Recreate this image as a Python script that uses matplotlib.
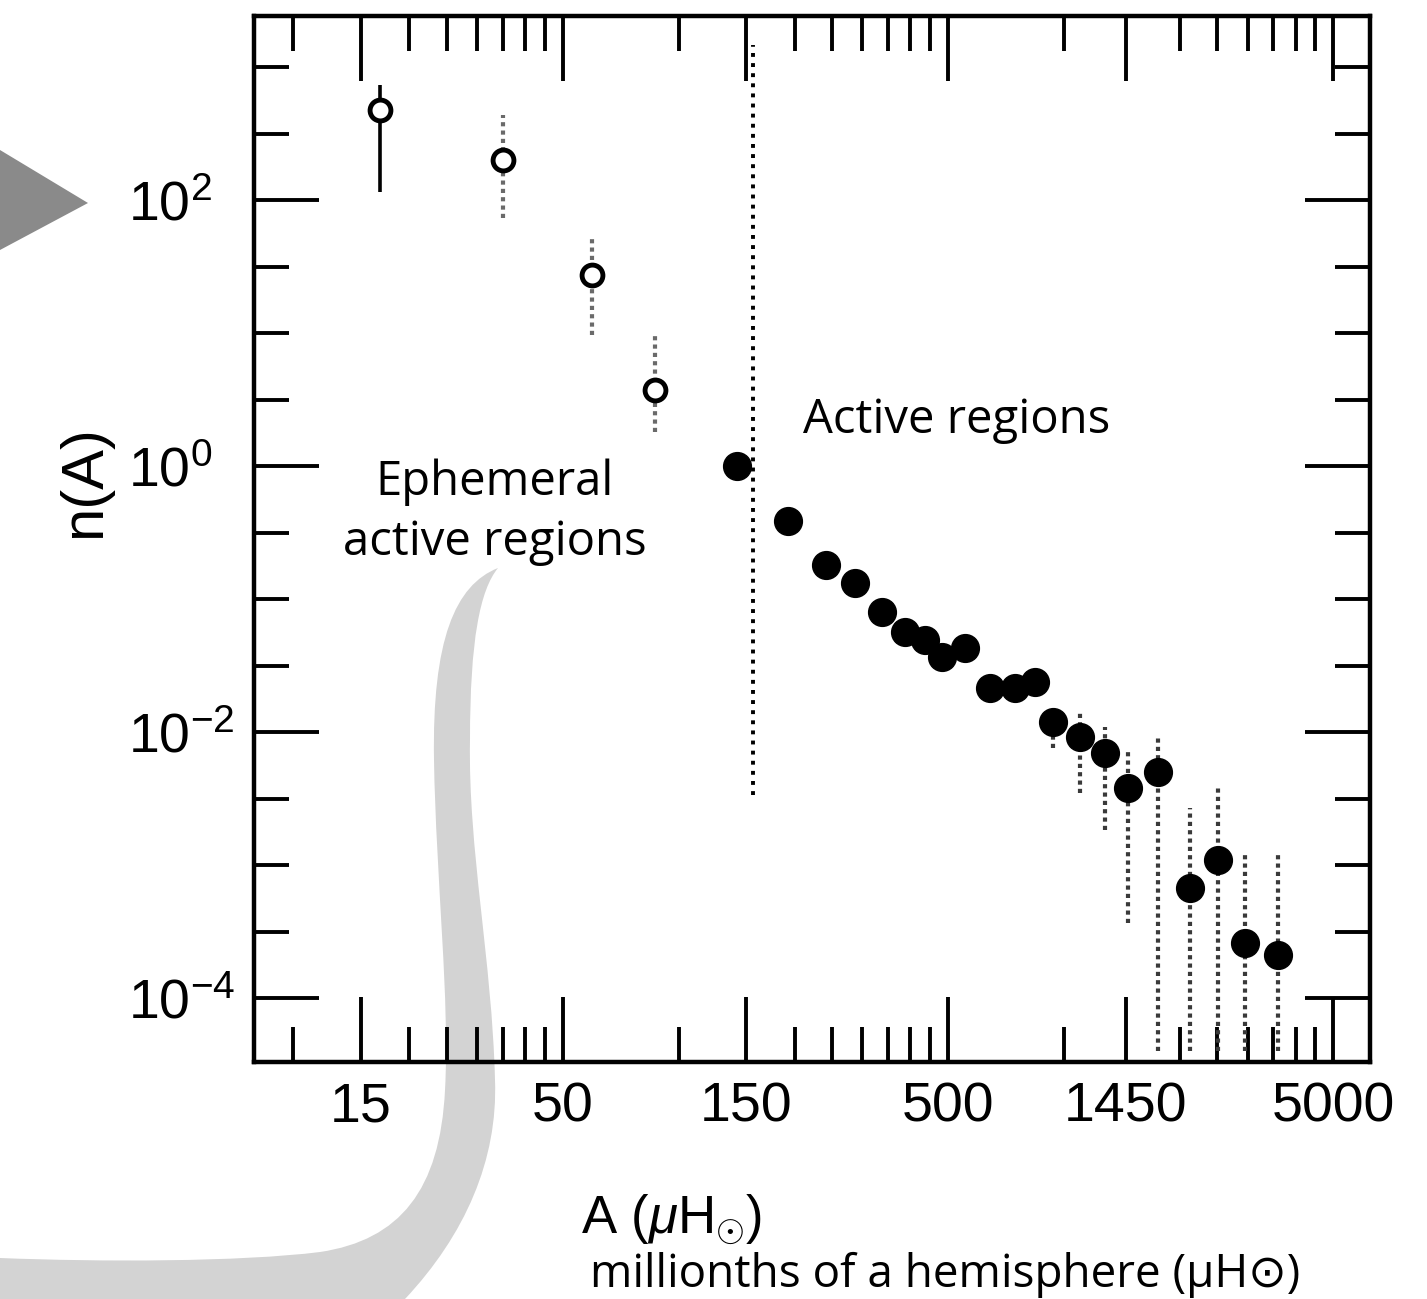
import matplotlib
matplotlib.use("Agg")
import matplotlib.pyplot as plt
from matplotlib.path import Path
from matplotlib.patches import PathPatch, Polygon
from matplotlib.ticker import FixedLocator, NullFormatter

# ---- data -------------------------------------------------------------
# Ephemeral active regions (open symbols): area in micro-hemispheres, n(A)
eph_area = [16.8, 35.0, 59.7, 86.9]
eph_n = [479.0, 201.6, 27.5, 3.76]
eph_lo = [116.0, 73.9, 9.74, 1.82]
eph_hi = [738.0, 439.0, 52.2, 10.3]

# Active regions (filled symbols)
ar_area = [142, 192, 241, 287, 337, 387, 436, 483, 554, 644, 747, 841,
           937, 1102, 1279, 1468, 1756, 2127, 2514, 2953, 3597]
ar_n = [1.0, 0.389, 0.182, 0.133, 0.0805, 0.0570, 0.0496, 0.0370, 0.0432,
        0.0216, 0.0216, 0.0240, 0.0120, 0.00925, 0.00701, 0.00383, 0.00505,
        0.000678, 0.00110, 0.000261, 0.000212]
ar_lo = [1.0, 0.389, 0.182, 0.133, 0.0805, 0.0570, 0.0496, 0.0370, 0.0432,
         0.0175, 0.0180, 0.0210, 0.00764, 0.00351, 0.00185, 0.00037, 4e-5,
         4e-5, 4e-5, 4e-5, 4e-5]
ar_hi = [1.0, 0.389, 0.182, 0.133, 0.0805, 0.0570, 0.0496, 0.0370, 0.0432,
         0.0216, 0.0216, 0.0240, 0.01426, 0.0140, 0.0110, 0.00738, 0.0091,
         0.0027, 0.00383, 0.00126, 0.00126]

# Boundary between ephemeral and active regions
boundary_area = 156
boundary_n = [0.0034, 1476]

# Axis ticks
x_major = [15, 50, 150, 500, 1450, 5000]
x_minor = [10, 20, 25, 30, 35, 40, 45, 100, 200, 250, 300, 350, 400, 450,
           1000, 2000, 2500, 3000, 3500, 4000, 4500]
y_major = [1e2, 1e0, 1e-2, 1e-4]
y_major_labels = ["$10^{2}$", "$10^{0}$", "$10^{-2}$", "$10^{-4}$"]
y_minor = [10 ** (k / 2) for k in (7, 6, 5, 3, 2, 1, -1, -2, -3, -5, -6, -7)]

# ---- figure -----------------------------------------------------------
W, H, DPI = 1427, 1299, 100
plt.rcParams["mathtext.fontset"] = "custom"
plt.rcParams["mathtext.rm"] = "Liberation Sans"
plt.rcParams["mathtext.it"] = "Liberation Sans:italic"
plt.rcParams["mathtext.bf"] = "Liberation Sans:bold"
plt.rcParams["font.family"] = ["Liberation Sans", "DejaVu Sans"]

fig = plt.figure(figsize=(W / DPI, H / DPI), dpi=DPI)


def px(x, y):
    """Pixel position (origin top-left) to figure fraction."""
    return x / W, 1 - y / H


# decorative shapes behind the plot
swoosh_verts = [
    px(498, 568),
    px(455, 585), px(432, 640), px(434, 760),
    px(436, 880), px(450, 1000), px(445, 1090),
    px(440, 1190), px(400, 1240), px(320, 1252),
    px(240, 1262), px(100, 1262), px(0, 1258),
    px(0, 1299),
    px(405, 1299),
    px(465, 1235), px(498, 1160), px(495, 1080),
    px(492, 960), px(468, 850), px(470, 740),
    px(470, 640), px(480, 590), px(498, 568),
]
swoosh_codes = ([Path.MOVETO] + [Path.CURVE4] * 12 + [Path.LINETO, Path.LINETO]
                + [Path.CURVE4] * 9)
swoosh = PathPatch(Path(swoosh_verts, swoosh_codes), facecolor="#d3d3d3",
                   edgecolor="none", transform=fig.transFigure, zorder=0)
fig.add_artist(swoosh)

arrow = Polygon([px(0, 150), px(88, 203), px(0, 250)], closed=True,
                facecolor="#8a8a8a", edgecolor="none",
                transform=fig.transFigure, zorder=0)
fig.add_artist(arrow)

ax = fig.add_axes([254 / W, 1 - 1062 / H, (1370 - 254) / W, (1062 - 16) / H])
ax.patch.set_alpha(0)
ax.set_xscale("log")
ax.set_yscale("log")
ax.set_xlim(7.91, 6233)
ax.set_ylim(3.33e-5, 2439)

# error bars
ax.errorbar(eph_area[:1], eph_n[:1],
            yerr=[[eph_n[0] - eph_lo[0]], [eph_hi[0] - eph_n[0]]],
            fmt="none", ecolor="black", elinewidth=2.6, capsize=0, zorder=2)
eb = ax.errorbar(eph_area[1:], eph_n[1:],
                 yerr=[[n - l for n, l in zip(eph_n[1:], eph_lo[1:])],
                       [h - n for n, h in zip(eph_n[1:], eph_hi[1:])]],
                 fmt="none", ecolor="#6a6a6a", elinewidth=3.0, capsize=0,
                 zorder=2)
eb[2][0].set_linestyle((0, (1, 1)))
eb = ax.errorbar(ar_area, ar_n,
                 yerr=[[n - l for n, l in zip(ar_n, ar_lo)],
                       [h - n for n, h in zip(ar_n, ar_hi)]],
                 fmt="none", ecolor="#3a3a3a", elinewidth=3.0, capsize=0,
                 zorder=2)
eb[2][0].set_linestyle((0, (1, 1)))

# symbols
ax.plot(eph_area, eph_n, linestyle="none", marker="o", markersize=15,
        markerfacecolor="white", markeredgecolor="black",
        markeredgewidth=3.5, zorder=3)
ax.plot(ar_area, ar_n, linestyle="none", marker="o", markersize=20,
        markerfacecolor="black", markeredgecolor="black", zorder=3)

# divider
ax.plot([boundary_area, boundary_area], boundary_n, color="black",
        linewidth=2.8, linestyle=(0, (1, 1.6)), zorder=2)

# axes styling
for s in ax.spines.values():
    s.set_linewidth(3.2)
ax.xaxis.set_major_locator(FixedLocator(x_major))
ax.xaxis.set_minor_locator(FixedLocator(x_minor))
ax.xaxis.set_minor_formatter(NullFormatter())
ax.set_xticklabels([str(v) for v in x_major])
ax.yaxis.set_major_locator(FixedLocator(y_major))
ax.yaxis.set_minor_locator(FixedLocator(y_minor))
ax.yaxis.set_minor_formatter(NullFormatter())
ax.set_yticklabels(y_major_labels)
ax.tick_params(which="both", direction="in", top=True, right=True,
               width=2.8, color="black")
ax.tick_params(which="major", length=47)
ax.tick_params(which="minor", length=25)
ax.tick_params(axis="x", which="major", labelsize=40, pad=14)
ax.tick_params(axis="y", which="major", labelsize=40, pad=91)
for lab in ax.get_yticklabels():
    lab.set_horizontalalignment("left")

ax.set_xlabel("A ($\\mu$H$_{\\odot}$)", fontsize=38)
ax.xaxis.set_label_coords((672 - 254) / 1116, (1062 - 1193) / 1046)
ax.set_ylabel("n(A)", fontsize=43)
ax.yaxis.set_label_coords((112 - 254) / 1116, (1062 - 482) / 1046)

# annotations
ann_font = ["Open Sans", "DejaVu Sans"]
fig.text(*px(957, 420), "Active regions", family=ann_font, fontsize=34,
         ha="center", va="center")
fig.text(*px(495, 512), "Ephemeral\nactive regions", family=ann_font,
         fontsize=34, ha="center", va="center", linespacing=1.33)
fig.text(*px(945, 1275), "millionths of a hemisphere (\u03bcH\u2299)",
         family=ann_font, fontsize=33, ha="center", va="center")

fig.savefig("out.png", dpi=DPI)
